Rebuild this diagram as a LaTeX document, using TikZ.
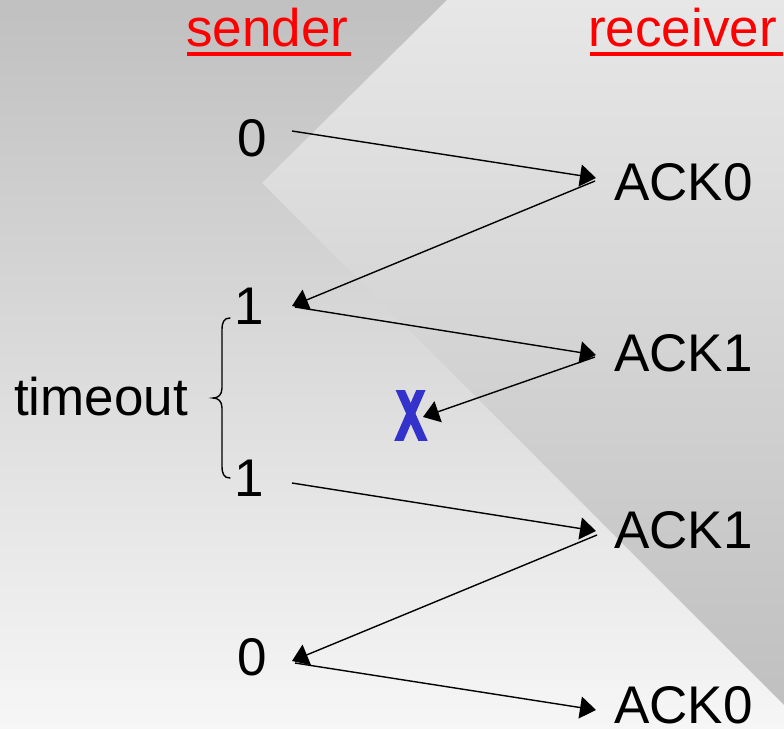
\documentclass[tikz,border=0pt]{standalone}
\usepackage{fontspec}
\setmainfont{Liberation Sans}
\usetikzlibrary{arrows.meta}
\definecolor{bgtop}{RGB}{192,192,192}
\definecolor{bgbot}{RGB}{246,246,246}
\definecolor{wtop}{RGB}{231,231,231}
\definecolor{wbot}{RGB}{192,192,192}
\definecolor{xblue}{RGB}{51,51,204}
\begin{document}
\begin{tikzpicture}[x=1pt,y=-1pt,
  lbl/.style={inner sep=0pt, anchor=base west, font=\fontsize{53}{60}\selectfont},
  hdr/.style={lbl, text=red},
  uline/.style={red, line width=4pt},
  msg/.style={line width=1.4pt, -{Triangle[length=16pt,width=22pt]}},
  brace/.style={line width=1.4pt, line cap=round}]
\useasboundingbox (0,0) rectangle (784,728);
% background
\shade[top color=bgtop, bottom color=bgbot] (0,0) rectangle (784,728);
\shade[top color=wtop, bottom color=wbot] (447,0) -- (784,0) -- (784,705) -- (262,183) -- cycle;
% headers
\node[hdr] (sender) at (186,46) {sender};
\node[hdr] (receiver) at (588,46) {receiver};
\draw[uline] (187,54) -- (351,54);
\draw[uline] (590,54) -- (783,54);
% labels
\node[lbl] (s0a) at (237,156) {0};
\node[lbl] (r0a) at (614,200) {ACK0};
\node[lbl] (s1a) at (234,324) {1};
\node[lbl] (r1a) at (614,371) {ACK1};
\node[lbl] (s1b) at (234,496) {1};
\node[lbl] (r1b) at (614,548) {ACK1};
\node[lbl] (s0b) at (237,675) {0};
\node[lbl] (r0b) at (614,723) {ACK0};
\node[lbl] (tmo) at (14,415) {timeout};
% arrow end points
\coordinate (a1s) at (292,131);
\coordinate (a1e) at (596,178);
\coordinate (a2s) at (595,181);
\coordinate (a2e) at (292,306);
\coordinate (a3s) at (295,307);
\coordinate (a3e) at (596,355);
\coordinate (a4s) at (595,357);
\coordinate (a4e) at (423,417);
\coordinate (a5s) at (292,483);
\coordinate (a5e) at (596,531);
\coordinate (a6s) at (597,535);
\coordinate (a6e) at (292,661);
\coordinate (a7s) at (295,663);
\coordinate (a7e) at (596,710);
\draw[msg] (a1s) -- (a1e);
\draw[msg] (a2s) -- (a2e);
\draw[msg] (a3s) -- (a3e);
\draw[msg] (a4s) -- (a4e);
\draw[msg] (a5s) -- (a5e);
\draw[msg] (a6s) -- (a6e);
\draw[msg] (a7s) -- (a7e);
% lost mark
\begin{scope}
\clip (385,390) rectangle (435,440);
\draw[xblue, line width=8.5pt] (394,376) -- (428,452);
\draw[xblue, line width=8.5pt] (427,376) -- (394,452);
\end{scope}
% brace
\draw[brace] (230,318) .. controls (224,318) and (222,322) .. (222,330) -- (222,388)
  .. controls (222,395) and (218,398) .. (213,398)
  .. controls (218,398) and (222,401) .. (222,408) -- (222,466)
  .. controls (222,474) and (224,478) .. (230,478);
\end{tikzpicture}
\end{document}
